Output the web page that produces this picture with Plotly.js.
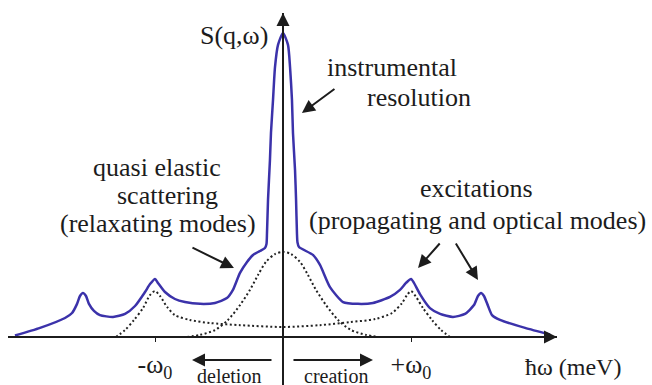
<!DOCTYPE html>
<html><head><meta charset="utf-8">
<script src="https://cdn.plot.ly/plotly-3.0.1.min.js"></script>
<style>html,body{margin:0;padding:0;background:#fff}#chart{width:652px;height:385px}</style>
</head><body><div id="chart"></div>
<script>
// energy transfer in units of omega0, intensity normalised to the elastic peak
const totalX = [-2.094,-1.898,-1.703,-1.648,-1.609,-1.586,-1.563,-1.539,-1.516,-1.477,-1.430,-1.328,-1.234,-1.156,-1.078,-1.039,-1.0,-0.977,-0.922,-0.844,-0.766,-0.648,-0.531,-0.438,-0.391,-0.336,-0.281,-0.234,-0.180,-0.141,-0.129,-0.125,-0.117,-0.102,-0.094,-0.078,-0.0625,-0.039,0,0.039,0.055,0.070,0.078,0.094,0.102,0.109,0.113,0.125,0.234,0.289,0.367,0.469,0.586,0.703,0.836,0.914,0.961,1.0,1.023,1.070,1.148,1.227,1.328,1.422,1.492,1.523,1.547,1.570,1.602,1.633,1.695,1.891,2.086];
const totalY = [0.005,0.030,0.0625,0.079,0.109,0.135,0.145,0.135,0.109,0.086,0.072,0.066,0.076,0.102,0.148,0.174,0.191,0.178,0.148,0.125,0.115,0.109,0.112,0.128,0.155,0.211,0.247,0.270,0.283,0.293,0.306,0.342,0.451,0.582,0.671,0.780,0.888,0.961,1.0,0.961,0.888,0.780,0.671,0.549,0.451,0.342,0.312,0.296,0.270,0.237,0.164,0.115,0.109,0.112,0.132,0.155,0.178,0.191,0.178,0.141,0.095,0.076,0.066,0.076,0.105,0.135,0.145,0.135,0.102,0.072,0.056,0.030,0.008];
const quasiX = [-0.75,-0.648,-0.531,-0.43,-0.336,-0.258,-0.195,-0.133,-0.0625,0,0.0625,0.133,0.195,0.258,0.336,0.43,0.531,0.648,0.75];
const quasiY = [0,0.007,0.023,0.056,0.105,0.155,0.204,0.247,0.273,0.280,0.273,0.247,0.204,0.155,0.105,0.056,0.023,0.007,0];
const excX = [-1.305,-1.234,-1.164,-1.094,-1.039,-1.0,-0.961,-0.906,-0.844,-0.727,-0.570,-0.336,0,0.289,0.523,0.719,0.852,0.930,0.969,1.0,1.039,1.094,1.164,1.234,1.305];
const excY = [0,0.023,0.056,0.095,0.138,0.151,0.135,0.099,0.072,0.056,0.046,0.039,0.033,0.039,0.049,0.059,0.079,0.112,0.138,0.151,0.132,0.095,0.056,0.023,0];
const tickVals = [-1, 1];
const tickText = ['-ω<sub>0</sub>', '+ω<sub>0</sub>'];

const xr = [-2.1484, 2.1406];
const yr = [-0.1579, 1.0658];
const fam = 'Liberation Serif';
const ink = '#1c1c1c';

const traces = [
  {x: quasiX, y: quasiY, mode: 'lines', line: {color: '#222', width: 2, dash: '2px,2.5px', shape: 'spline', smoothing: 0.8}, hoverinfo: 'skip'},
  {x: excX, y: excY, mode: 'lines', line: {color: '#222', width: 2, dash: '2px,2.5px', shape: 'spline', smoothing: 0.8}, hoverinfo: 'skip'},
  {x: totalX, y: totalY, mode: 'lines', line: {color: '#3b32aa', width: 2.5, shape: 'spline', smoothing: 0.6}, hoverinfo: 'skip'}
];

function txt(t, x, y, size, xref) {
  return {text: t, x: x, y: y, xref: xref || 'x', yref: 'y', showarrow: false, xanchor: 'center', yanchor: 'middle',
          font: {family: fam, size: size || 26, color: ink}};
}
function arr(x, y, ax, ay) {
  return {text: '', x: x, y: y, xref: 'x', yref: 'y', ax: ax, ay: ay, showarrow: true,
          arrowhead: 2, arrowsize: 1.3, arrowwidth: 2, arrowcolor: ink, standoff: 0, startstandoff: 0};
}

const annotations = [
  txt('S(q,ω)', -0.383, 0.993),
  txt('instrumental', 0.852, 0.888),
  txt('resolution', 1.0625, 0.789),
  txt('quasi elastic', -0.984, 0.559),
  txt('scattering', -0.906, 0.464),
  txt('(relaxating modes)', -0.977, 0.375),
  txt('excitations', 1.508, 0.487),
  txt('(propagating and optical modes)', 1.516, 0.382),
  txt('deletion', -0.422, -0.127, 20),
  txt('creation', 0.414, -0.127, 20),
  txt('ħω (meV)', 1.03, -0.099, 24, 'paper'),
  arr(0.148, 0.737, 34, -25),
  arr(-0.383, 0.227, -43, -21),
  arr(1.055, 0.227, 23, -26),
  arr(1.523, 0.1875, -23, -38),
  arr(-0.711, -0.0757, 81, 0),
  arr(0.703, -0.0757, -81, 0),
  arr(xr[1], 0, -14, 0),
  arr(0, yr[1], 0, 14)
];

const layout = {
  width: 652, height: 385,
  margin: {l: 8, r: 95, t: 13, b: 0, pad: 0},
  paper_bgcolor: '#fff', plot_bgcolor: 'rgba(0,0,0,0)',
  showlegend: false,
  xaxis: {range: xr, anchor: 'free', position: (0 - yr[0]) / (yr[1] - yr[0]),
          showline: true, linecolor: ink, linewidth: 2, showgrid: false, zeroline: false,
          tickvals: tickVals, ticktext: tickText, ticks: 'outside', ticklen: 4, tickwidth: 1, tickcolor: ink,
          tickfont: {family: fam, size: 26, color: ink}, fixedrange: true},
  yaxis: {range: yr, anchor: 'free', position: (0 - xr[0]) / (xr[1] - xr[0]),
          showline: true, linecolor: ink, linewidth: 2, showgrid: false, zeroline: false,
          showticklabels: false, ticks: '', fixedrange: true},
  annotations: annotations
};

Plotly.newPlot('chart', traces, layout, {displayModeBar: false, staticPlot: true});
</script></body></html>
